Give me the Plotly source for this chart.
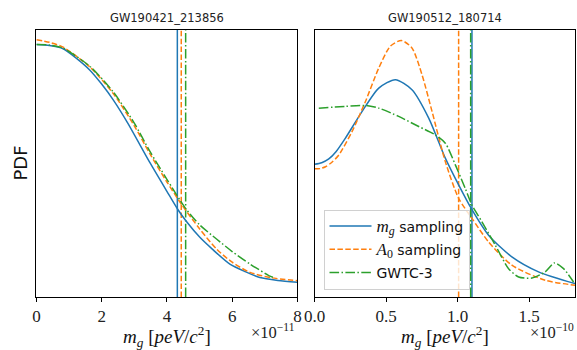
import plotly.graph_objects as go

# ---------------- data ----------------
# Left panel: GW190421_213856, x in units of 1e-11 peV/c^2
left_x_mg = [0, 0.4, 0.82, 1.2, 1.64, 2.0, 2.36, 2.8, 3.48, 4.0, 4.32, 4.6, 5.01, 5.4, 5.93, 6.4, 6.85, 7.4, 8.0]
left_y_mg = [0.944, 0.940, 0.928, 0.895, 0.848, 0.796, 0.736, 0.650, 0.502, 0.395, 0.330, 0.282, 0.223, 0.178, 0.123, 0.095, 0.073, 0.062, 0.055]
left_x_a0 = [0, 0.4, 0.82, 1.64, 2.36, 3.0, 3.48, 4.0, 4.45, 5.0, 5.53, 6.0, 6.55, 7.2, 8.0]
left_y_a0 = [0.962, 0.952, 0.934, 0.860, 0.760, 0.640, 0.535, 0.430, 0.346, 0.255, 0.178, 0.130, 0.092, 0.072, 0.061]
left_x_gw = [0, 0.4, 0.82, 1.64, 2.36, 3.0, 3.48, 4.0, 4.55, 5.0, 5.53, 6.0, 6.55, 7.16, 7.25]
left_y_gw = [0.944, 0.942, 0.930, 0.862, 0.766, 0.650, 0.544, 0.440, 0.335, 0.270, 0.216, 0.170, 0.123, 0.078, 0.074]
left_vlines = [4.32, 4.44, 4.575]   # m_g sampling, A0 sampling, GWTC-3

# Right panel: GW190512_180714, x in units of 1e-10 peV/c^2
right_x_mg = [0.0, 0.05, 0.1, 0.15, 0.216, 0.333, 0.449, 0.565, 0.681, 0.798, 0.914, 1.007, 1.095, 1.216, 1.379, 1.565, 1.82]
right_y_mg = [0.496, 0.502, 0.516, 0.543, 0.594, 0.694, 0.781, 0.8125, 0.775, 0.669, 0.519, 0.419, 0.331, 0.231, 0.150, 0.094, 0.050]
right_x_a0 = [0.0, 0.04, 0.077, 0.12, 0.17, 0.263, 0.356, 0.449, 0.53, 0.607, 0.681, 0.751, 0.821, 0.914, 1.007, 1.1, 1.216, 1.379, 1.612, 1.82]
right_y_a0 = [0.479, 0.480, 0.487, 0.503, 0.531, 0.619, 0.731, 0.856, 0.9375, 0.959, 0.931, 0.831, 0.694, 0.506, 0.369, 0.294, 0.206, 0.119, 0.0625, 0.044]
right_x_gw = [0.03, 0.216, 0.356, 0.449, 0.588, 0.728, 0.844, 0.914, 0.984, 1.053, 1.1, 1.17, 1.263, 1.356, 1.426, 1.519, 1.612, 1.677, 1.74, 1.81]
right_y_gw = [0.706, 0.7125, 0.716, 0.706, 0.675, 0.6375, 0.606, 0.575, 0.494, 0.406, 0.344, 0.281, 0.194, 0.106, 0.075, 0.071, 0.094, 0.1275, 0.106, 0.056]
right_vlines = [1.10, 1.007, 1.091]   # m_g sampling, A0 sampling, GWTC-3

titles = ["GW190421_213856", "GW190512_180714"]
left_ticks = [0, 2, 4, 6, 8]
right_ticks = [0.0, 0.5, 1.0, 1.5]
right_ticktext = ["0.0", "0.5", "1.0", "1.5"]

series_names = ["<span style='font-family:Liberation Serif;font-size:17px'><i>m</i><sub><i>g</i></sub></span> sampling",
                "<span style='font-family:Liberation Serif;font-size:17px'><i>A</i><sub>0</sub></span> sampling",
                "GWTC-3"]
colors = ["#1f77b4", "#ff7f0e", "#2ca02c"]
dashes = ["solid", "5.5px,2.4px", "9.6px,2.4px,1.5px,2.4px"]

SERIF = "Liberation Serif"
SANS = "DejaVu Sans"

fig = go.Figure()

def add_panel(xs_list, ys_list, vlines, xa, ya, legend):
    for i, v in enumerate(vlines):
        fig.add_trace(go.Scatter(x=[v, v], y=[0, 1], mode="lines", xaxis=xa, yaxis=ya,
                                 line=dict(color=colors[i], width=1.5, dash=dashes[i]),
                                 showlegend=False, hoverinfo="skip"))
    for i, (xs, ys) in enumerate(zip(xs_list, ys_list)):
        fig.add_trace(go.Scatter(x=xs, y=ys, mode="lines", xaxis=xa, yaxis=ya,
                                 line=dict(color=colors[i], width=1.5, dash=dashes[i], shape="spline", smoothing=0.7),
                                 name=series_names[i], showlegend=legend, legendgroup=str(i)))

add_panel([left_x_mg, left_x_a0, left_x_gw], [left_y_mg, left_y_a0, left_y_gw], left_vlines, "x", "y", False)
add_panel([right_x_mg, right_x_a0, right_x_gw], [right_y_mg, right_y_a0, right_y_gw], right_vlines, "x2", "y2", True)

W, H = 577, 350
def px(xp): return xp / W
def py(yp): return 1 - yp / H

ydom = [py(297), py(29.5)]
axis_common = dict(showgrid=False, zeroline=False, showline=True, linecolor="black", linewidth=1,
                   mirror=True, ticks="outside", ticklen=4, tickwidth=1, tickcolor="black",
                   tickfont=dict(family=SERIF, size=17, color="#222"), automargin=False)
yaxis_common = {k: v for k, v in axis_common.items() if k != "ticks"}
fig.update_layout(
    width=W, height=H, margin=dict(l=0, r=0, t=0, b=0),
    paper_bgcolor="white", plot_bgcolor="white",
    xaxis=dict(domain=[px(36.4), px(297.4)], range=[0, 8], tickvals=left_ticks,
               ticktext=[str(t) for t in left_ticks], **axis_common),
    yaxis=dict(domain=ydom, range=[0, 1], showticklabels=False, ticks="", **yaxis_common),
    xaxis2=dict(domain=[px(314.5), px(575)], range=[0, 1.82], tickvals=right_ticks,
                ticktext=right_ticktext, anchor="y2", **axis_common),
    yaxis2=dict(domain=ydom, range=[0, 1], showticklabels=False, anchor="x2", ticks="", **yaxis_common),
    legend=dict(x=px(323.5), y=py(209.5), xanchor="left", yanchor="top",
                bgcolor="rgba(255,255,255,0.8)", bordercolor="#d0d0d0", borderwidth=1,
                font=dict(family=SANS, size=14, color="#111"), tracegroupgap=2,
                itemwidth=42, traceorder="grouped"),
    showlegend=True,
)

ann = []
# subplot titles
ann.append(dict(text=titles[0], x=px(166.9), y=py(17.5), xref="paper", yref="paper", showarrow=False,
                font=dict(family=SANS, size=11.5, color="#222"), xanchor="center", yanchor="middle"))
ann.append(dict(text=titles[1], x=px(444.5), y=py(17.5), xref="paper", yref="paper", showarrow=False,
                font=dict(family=SANS, size=11.5, color="#222"), xanchor="center", yanchor="middle"))
# y label
ann.append(dict(text="PDF", x=px(20), y=py(163.5), xref="paper", yref="paper", showarrow=False, textangle=-90,
                font=dict(family=SANS, size=18, color="#111"), xanchor="center", yanchor="middle"))
# x labels
xlabel = "<i>m</i><sub><i>g</i></sub> [<i>peV</i>/<i>c</i><sup>2</sup>]"
for cx in (166.9, 444.5):
    ann.append(dict(text=xlabel, x=px(cx), y=py(336), xref="paper", yref="paper", showarrow=False,
                    font=dict(family=SERIF, size=19, color="#111"), xanchor="center", yanchor="middle"))
# exponent labels
ann.append(dict(text="×10<sup>−11</sup>", x=px(297.4), y=py(331), xref="paper", yref="paper", showarrow=False,
                font=dict(family=SERIF, size=16.5, color="#222"), xanchor="right", yanchor="middle"))
ann.append(dict(text="×10<sup>−10</sup>", x=px(576), y=py(331), xref="paper", yref="paper", showarrow=False,
                font=dict(family=SERIF, size=16.5, color="#222"), xanchor="right", yanchor="middle"))
fig.update_layout(annotations=ann)

fig.write_html("out.html")
